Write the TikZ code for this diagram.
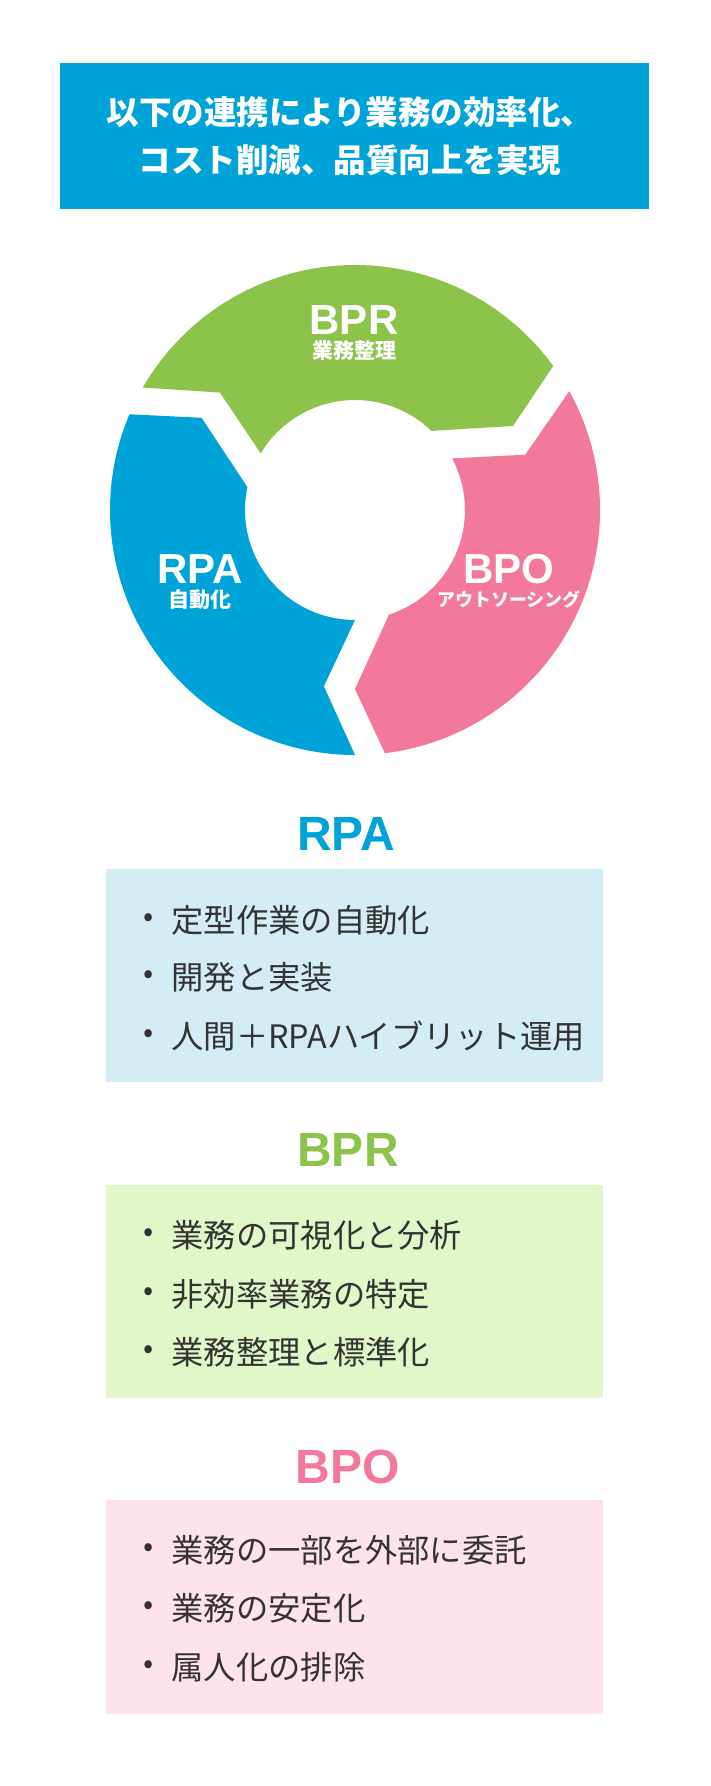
\documentclass[tikz,border=0pt]{standalone}
\usepackage{fontspec}
\setmainfont{Noto Sans CJK JP}
\newfontfamily\latinfont{Liberation Sans}
\usetikzlibrary{positioning}
\definecolor{rpablue}{HTML}{00A3D8}
\definecolor{bprgreen}{HTML}{8CC34B}
\definecolor{bpopink}{HTML}{F2799B}
\definecolor{rpalight}{HTML}{D4ECF3}
\definecolor{bprlight}{HTML}{E1F7C8}
\definecolor{bpolight}{HTML}{FFE3EA}
\definecolor{itemgray}{HTML}{333333}
\begin{document}
\begin{tikzpicture}[x=1pt, y=-1pt,
    title/.style={text=white, font=\bfseries\fontsize{32.5}{48}\selectfont, align=center},
    head/.style={font=\latinfont\bfseries\fontsize{48}{48}\selectfont},
    item/.style={anchor=west, text=itemgray, font=\fontsize{32.3}{32.3}\selectfont},
    dot/.style={text=itemgray, font=\fontsize{30}{30}\selectfont},
    big/.style={text=white, font=\latinfont\bfseries\fontsize{42}{42}\selectfont},
    small/.style={text=white, font=\bfseries\fontsize{21}{21}\selectfont}]

    \useasboundingbox (0,0) rectangle (710,1786);
    \fill[white] (0,0) rectangle (710,1786);

    \fill[rpablue] (60,63) rectangle (649,209);
    \node(T1)[title] at (350,136) {以下の連携により業務の効率化、\\コスト削減、品質向上を実現};

    \begin{scope}[shift={(355,510)}, y=1pt]
    \fill[bprgreen] (150:245) arc (150:36:245) -- (28:179) -- (46:110)
        arc (46:149:110) -- (139:179) -- cycle;
    \fill[bpopink] (29:245) arc (29:-83:245) -- (-90:179) -- (-72:110)
        arc (-72:28:110) -- (18:179) -- cycle;
    \fill[rpablue] (-90:245) arc (-90:-203:245) -- (149:179) -- (168:110)
        arc (-192:-90:110) -- (-100:179) -- cycle;
    \end{scope}

    \node(BPR)[big] at (354,320) {BPR};
    \node(BPRs)[small, below=-1pt of BPR] {業務整理};
    \node(RPA)[big] at (200,569) {RPA};
    \node(RPAs)[small, below=-1pt of RPA] {自動化};
    \node(BPO)[big] at (509,569) {BPO};
    \node(BPOs)[small, font=\bfseries\fontsize{18}{18}\selectfont, below=0pt of BPO] {アウトソーシング};

    % RPA
    \node(H1)[head, text=rpablue] at (346,834) {RPA};
    \fill[rpalight] (106,869) rectangle (603,1082);
    \node(D11)[dot] at (149,920) {•};
    \node(I11)[item] at (168,920) {定型作業の自動化};
    \node(D12)[dot] at (149,977) {•};
    \node(I12)[item] at (168,977) {開発と実装};
    \node(D13)[dot] at (149,1036) {•};
    \node(I13)[item] at (168,1036) {人間＋RPAハイブリット運用};

    % BPR
    \node(H2)[head, text=bprgreen] at (348,1150) {BPR};
    \fill[bprlight] (106,1185) rectangle (603,1398);
    \node(D21)[dot] at (149,1235) {•};
    \node(I21)[item] at (168,1235) {業務の可視化と分析};
    \node(D22)[dot] at (149,1294) {•};
    \node(I22)[item] at (168,1294) {非効率業務の特定};
    \node(D23)[dot] at (149,1352) {•};
    \node(I23)[item] at (168,1352) {業務整理と標準化};

    % BPO
    \node(H3)[head, text=bpopink] at (348,1467) {BPO};
    \fill[bpolight] (106,1500) rectangle (603,1714);
    \node(D31)[dot] at (149,1550) {•};
    \node(I31)[item] at (168,1550) {業務の一部を外部に委託};
    \node(D32)[dot] at (149,1608) {•};
    \node(I32)[item] at (168,1608) {業務の安定化};
    \node(D33)[dot] at (149,1667) {•};
    \node(I33)[item] at (168,1667) {属人化の排除};

\end{tikzpicture}
\end{document}
